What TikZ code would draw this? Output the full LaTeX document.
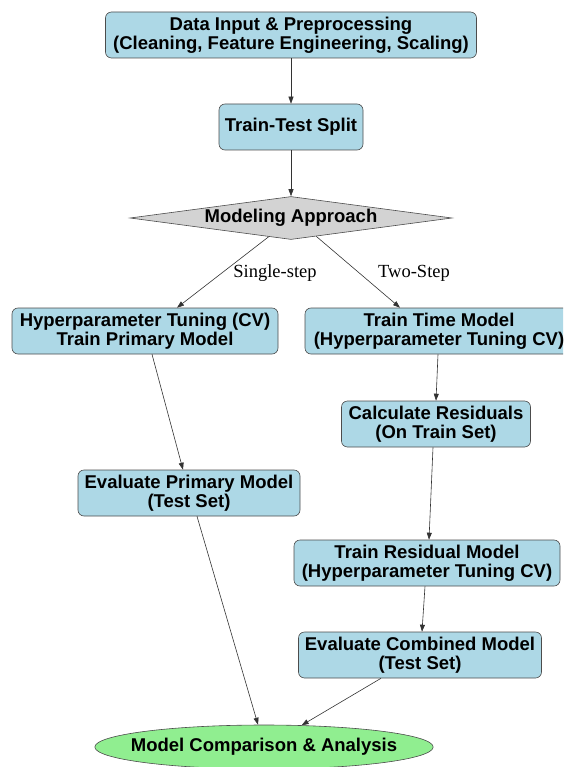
\documentclass[tikz,border=0pt]{standalone}
\usepackage{fontspec}
\setmainfont{Liberation Serif}
\newfontfamily\boxfont{Liberation Sans}
\usetikzlibrary{arrows.meta,shapes.geometric}
\definecolor{boxblue}{RGB}{173,216,230}
\definecolor{choicegray}{RGB}{211,211,211}
\definecolor{endgreen}{RGB}{144,238,144}

\begin{document}
\begin{tikzpicture}[x=1pt,y=-1pt,line width=.6pt,
  box/.style={draw=black!70,fill=boxblue,rounded corners=6pt,align=center,inner sep=0pt,minimum height=46pt,font=\boxfont\bfseries\fontsize{18.5}{19}\selectfont},
  choice/.style={diamond,draw=black!70,fill=choicegray,aspect=7.5,inner sep=0pt,minimum width=322pt,minimum height=43pt,font=\boxfont\bfseries\fontsize{18.5}{19}\selectfont},
  result/.style={ellipse,draw=black!70,fill=endgreen,inner xsep=-13.5pt,inner ysep=0pt,minimum height=44pt,font=\boxfont\bfseries\fontsize{18.5}{19}\selectfont},
  edgelabel/.style={inner sep=1pt,font=\fontsize{18.5}{19}\selectfont},
  flow/.style={draw=black!80,-{Triangle[length=7pt,width=5pt]}}]
\clip (0,0) rectangle (563,767);
\node[box,minimum width=371pt] (input) at (291,35) {Data Input \& Preprocessing\\(Cleaning, Feature Engineering, Scaling)};
\node[box,minimum width=144pt] (split) at (291,127) {Train-Test Split};
\node[choice] (approach) at (291,218) {Modeling Approach};
\node[box,minimum width=266pt] (tuneprim) at (145,331) {Hyperparameter Tuning (CV)\\Train Primary Model};
\node[box,minimum width=268pt] (timemodel) at (439,331) {Train Time Model\\(Hyperparameter Tuning CV)};
\node[box,minimum width=189pt] (residuals) at (436,424) {Calculate Residuals\\(On Train Set)};
\node[box,minimum width=222pt] (evalprim) at (189,493) {Evaluate Primary Model\\(Test Set)};
\node[box,minimum width=266pt] (resmodel) at (427,563) {Train Residual Model\\(Hyperparameter Tuning CV)};
\node[box,minimum width=243pt] (evalcomb) at (420,655) {Evaluate Combined Model\\(Test Set)};
\node[result] (compare) at (264,747) {Model Comparison \& Analysis};
\node[edgelabel] (lsingle) at (275,273) {Single-step};
\node[edgelabel] (ltwo) at (414,273) {Two-Step};
\draw[flow] (input) -- (split);
\draw[flow] (split) -- (approach);
\draw[flow] (approach.-140) -- ([xshift=32pt]tuneprim.north);
\draw[flow] (approach.-36) -- ([xshift=-39pt]timemodel.north);
\draw[flow] ([xshift=-1pt]timemodel.south) -- (residuals.north);
\draw[flow] ([xshift=7pt]tuneprim.south) -- ([xshift=-6pt]evalprim.north);
\draw[flow] ([xshift=-3pt]residuals.south) -- ([xshift=2pt]resmodel.north);
\draw[flow] ([xshift=-2pt]resmodel.south) -- ([xshift=2pt]evalcomb.north);
\draw[flow] ([xshift=8pt]evalprim.south) -- (compare.105);
\draw[flow] ([xshift=-39pt]evalcomb.south) -- (compare.30);
\end{tikzpicture}
\end{document}
